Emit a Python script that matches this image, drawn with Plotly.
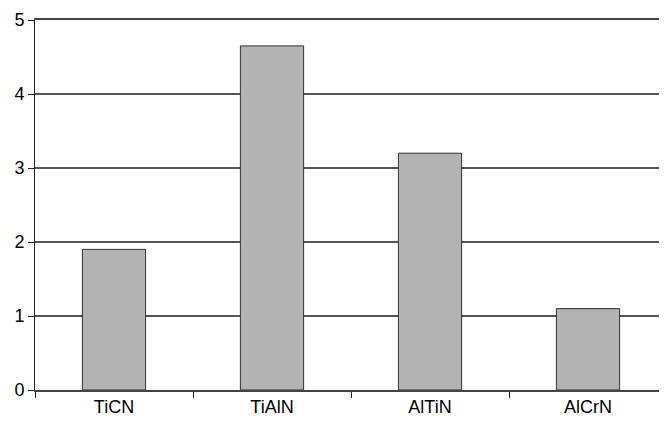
import plotly.graph_objects as go

categories = ["TiCN", "TiAlN", "AlTiN", "AlCrN"]
values = [1.9, 4.65, 3.2, 1.1]
y_ticks = [0, 1, 2, 3, 4, 5]

fig = go.Figure(go.Bar(
    x=categories, y=values,
    marker=dict(color="#b3b3b3", line=dict(color="#333333", width=1)),
    width=0.4,
))

fig.update_layout(
    width=659, height=423,
    margin=dict(l=27, r=0, t=12, b=41),
    paper_bgcolor="white", plot_bgcolor="white",
    showlegend=False,
    font=dict(family="Liberation Sans, Arial, sans-serif", size=18, color="#000000"),
    xaxis=dict(
        type="category", tickson="boundaries", ticks="outside", ticklen=6,
        tickcolor="#222222", tickwidth=1,
        showline=True, linecolor="#444444", linewidth=1.5, mirror=True,
        showgrid=False, tickfont=dict(size=18),
    ),
    yaxis=dict(
        range=[0, 5], tickvals=y_ticks, ticks="outside", ticklen=6,
        tickcolor="#222222", tickwidth=1,
        showline=True, linecolor="#222222", linewidth=1,
        showgrid=True, gridcolor="#555555", gridwidth=1.5,
        zeroline=False, tickfont=dict(size=18),
    ),
)

fig.write_html("out.html")
